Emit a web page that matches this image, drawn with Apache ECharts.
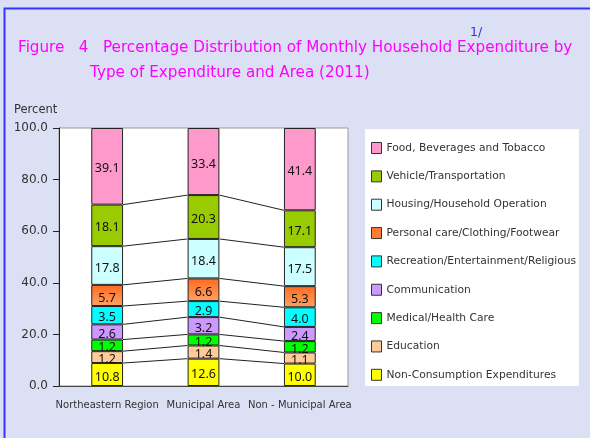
<!DOCTYPE html>
<html>
<head>
<meta charset="utf-8">
<script src="https://cdn.jsdelivr.net/npm/echarts@6/dist/echarts.min.js"></script>
<style>
  html, body { margin: 0; padding: 0; background: #dce0f5; }
  #chart { width: 590px; height: 438px; }
</style>
</head>
<body>
<div id="chart"></div>
<script>
// areas on the x axis
var areas = ['Northeastern Region', 'Municipal Area', 'Non - Municipal Area']

// expenditure types, bottom of the stack first
var expenseTypes = [
  'Non-Consumption Expenditures',
  'Education',
  'Medical/Health Care',
  'Communication',
  'Recreation/Entertainment/Religious',
  'Personal care/Clothing/Footwear',
  'Housing/Household Operation',
  'Vehicle/Transportation',
  'Food, Beverages and Tobacco'
]

// printed percent per area (the labels), same order as expenseTypes
var nonConsumption = [10.8, 12.6, 10.0]
var education = [1.2, 1.4, 1.1]
var medical = [1.2, 1.2, 1.2]
var communication = [2.6, 3.2, 2.4]
var recreation = [3.5, 2.9, 4.0]
var personalCare = [5.7, 6.6, 5.3]
var housing = [17.8, 18.4, 17.5]
var vehicle = [18.1, 20.3, 17.1]
var food = [39.1, 33.4, 41.4]

// segment heights as drawn in the original (small shares are drawn enlarged)
var nonConsumptionHeight = [8.9, 10.6, 8.7]
var educationHeight = [4.6, 5.1, 4.3]
var medicalHeight = [4.5, 4.3, 4.4]
var communicationHeight = [5.9, 6.7, 5.5]
var recreationHeight = [7.1, 6.2, 7.6]
var personalCareHeight = [8.2, 8.8, 8.2]
var housingHeight = [15.0, 15.3, 15.1]
var vehicleHeight = [16.1, 17.0, 14.3]
var foodHeight = [29.7, 26.0, 31.9]

var yTicks = [0, 20, 40, 60, 80, 100]

var printed = [nonConsumption, education, medical, communication, recreation,
  personalCare, housing, vehicle, food]
var heights = [nonConsumptionHeight, educationHeight, medicalHeight, communicationHeight,
  recreationHeight, personalCareHeight, housingHeight, vehicleHeight, foodHeight]

var colors = [
  '#ffff00', '#ffcc99', '#00ff00', '#cc99ff', '#00ffff',
  new echarts.graphic.LinearGradient(0, 0, 0, 1, [
    { offset: 0, color: '#ff6a1f' },
    { offset: 1, color: '#ffa266' }
  ]),
  '#ccffff', '#99cc00', '#ff99cc'
]
var legendColors = ['#ffff00', '#ffcc99', '#00ff00', '#cc99ff', '#00ffff',
  '#ff7a33', '#ccffff', '#99cc00', '#ff99cc']

// connector lines between the bars at each stack boundary
var connectors = []
var cum = areas.map(function () { return 0 })
heights.forEach(function (vals, s) {
  cum = cum.map(function (c, i) { return +(c + vals[i]).toFixed(1) })
  if (s === heights.length - 1) return
  for (var i = 0; i < areas.length - 1; i++) {
    connectors.push([i, cum[i], cum[i + 1]])
  }
})

var chart = echarts.init(document.getElementById('chart'))

var series = heights.map(function (vals, s) {
  return {
    name: expenseTypes[s],
    type: 'bar',
    stack: 'total',
    barWidth: '33%',
    data: vals.map(function (h, i) {
      return { value: h, printed: printed[s][i] }
    }),
    itemStyle: {
      color: colors[s],
      borderColor: '#222',
      borderWidth: 1
    },
    label: {
      show: true,
      position: 'inside',
      offset: [0, 2.5],
      color: '#111',
      fontSize: 12.5,
      fontFamily: 'Noto Sans',
      formatter: function (p) { return p.data.printed.toFixed(1) }
    },
    emphasis: { disabled: true },
    z: 3
  }
})

series.push({
  type: 'custom',
  name: 'connectors',
  data: connectors,
  silent: true,
  z: 2,
  renderItem: function (params, api) {
    var hw = api.size([1, 0])[0] * 0.165
    var p1 = api.coord([api.value(0), api.value(1)])
    var p2 = api.coord([api.value(0) + 1, api.value(2)])
    return {
      type: 'line',
      shape: { x1: p1[0] + hw, y1: p1[1], x2: p2[0] - hw, y2: p2[1] },
      style: { stroke: '#222', lineWidth: 1 }
    }
  }
})

chart.setOption({
  backgroundColor: '#dce0f5',
  animation: false,
  textStyle: { fontFamily: 'DejaVu Sans' },
  graphic: [
    {
      type: 'rect',
      shape: { x: 4.5, y: 8.5, width: 700, height: 600 },
      style: { fill: 'none', stroke: '#3535ff', lineWidth: 2 },
      silent: true
    },
    {
      type: 'rect',
      shape: { x: 365, y: 129, width: 214, height: 257 },
      style: { fill: '#ffffff' },
      silent: true,
      z: -1
    }
  ],
  title: [
    {
      text: 'Figure   4   Percentage Distribution of Monthly Household Expenditure by',
      left: 18, top: 41, padding: 0,
      textStyle: { color: '#ff00ff', fontSize: 15.2, fontWeight: 'normal', fontFamily: 'DejaVu Sans' }
    },
    {
      text: 'Type of Expenditure and Area (2011)',
      left: 90, top: 66, padding: 0,
      textStyle: { color: '#ff00ff', fontSize: 15.2, fontWeight: 'normal', fontFamily: 'DejaVu Sans' }
    },
    {
      text: '1/',
      left: 470, top: 26, padding: 0,
      textStyle: { color: '#3333cc', fontSize: 12.5, fontWeight: 'normal', fontFamily: 'DejaVu Sans' }
    },
    {
      text: 'Percent',
      left: 14, top: 104, padding: 0,
      textStyle: { color: '#333', fontSize: 11.5, fontWeight: 'normal', fontFamily: 'DejaVu Sans' }
    }
  ],
  legend: {
    orient: 'vertical',
    left: 366,
    top: 137,
    itemWidth: 10,
    itemHeight: 11,
    itemGap: 16.35,
    icon: 'rect',
    data: expenseTypes.slice().reverse().map(function (name) {
      var s = expenseTypes.indexOf(name)
      return {
        name: name,
        itemStyle: { color: legendColors[s], borderColor: '#333', borderWidth: 1 }
      }
    }),
    textStyle: { color: '#333', fontSize: 10.7, fontFamily: 'DejaVu Sans' },
    selectedMode: false
  },
  grid: {
    left: 59,
    right: 242,
    top: 128,
    bottom: 52,
    show: true,
    backgroundColor: '#ffffff',
    borderColor: '#999',
    borderWidth: 1
  },
  xAxis: {
    type: 'category',
    data: areas,
    axisLine: { show: true, lineStyle: { color: '#444' } },
    axisTick: { show: false },
    axisLabel: { color: '#333', fontSize: 10, margin: 14, interval: 0 }
  },
  yAxis: {
    type: 'value',
    min: yTicks[0],
    max: yTicks[yTicks.length - 1],
    interval: yTicks[1] - yTicks[0],
    axisLine: { show: true, lineStyle: { color: '#222' } },
    axisTick: { show: true, length: 6, lineStyle: { color: '#222' } },
    splitLine: { show: false },
    axisLabel: {
      color: '#333', fontSize: 12, margin: 11,
      formatter: function (v) { return v.toFixed(1) }
    }
  },
  series: series
})
</script>
</body>
</html>
